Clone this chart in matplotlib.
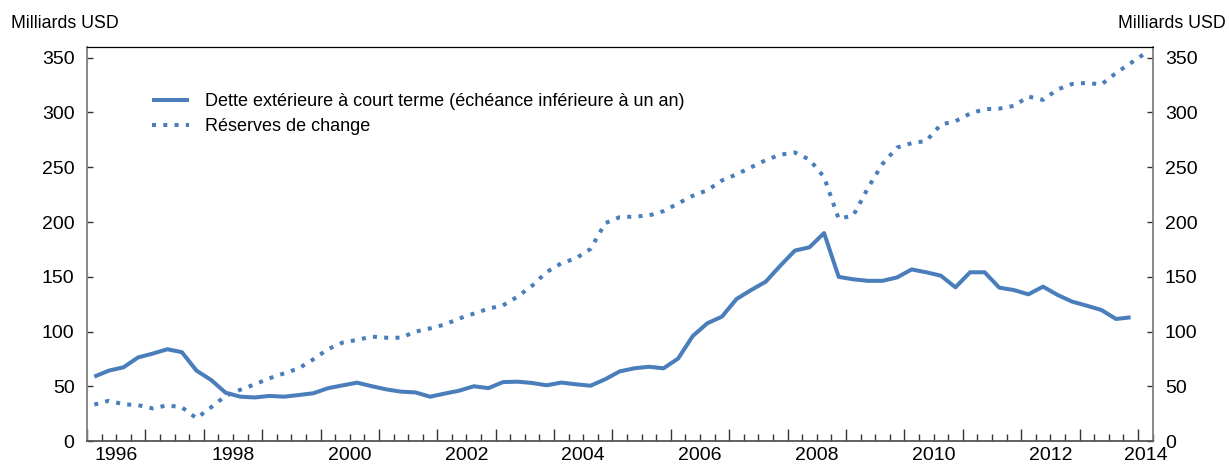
import matplotlib
matplotlib.use("Agg")
import matplotlib.pyplot as plt
from matplotlib.ticker import MultipleLocator
import pandas as pd

# ---------------- data (billions USD, quarterly from 1996Q1) ----------------
start_quarter = "1996Q1"
debt = [59, 64.5, 67.5, 76.5, 80, 84, 81.3, 64.5, 56, 44.3, 40.7, 40,
        41.4, 40.7, 42.2, 43.8, 48.4, 51, 53.5, 50.3, 47.4, 45.3, 44.6, 40.7,
        43.5, 46.2, 50.2, 48.5, 54, 54.4, 53.2, 51.1, 53.6, 52, 50.7, 56.6,
        63.8, 66.6, 68, 66.6, 75.5, 96, 107.7, 113.7, 129.8, 138, 145.6, 160.2,
        174, 177, 190, 150, 147.8, 146.4, 146.4, 149.5, 156.8, 154.2, 151.1, 140.5,
        154.2, 154.2, 140.2, 138, 134.1, 141.1, 133.5, 127.4, 123.7, 119.8, 111.6, 113.1]
reserves = [33.5, 37, 33.8, 33, 30, 32.8, 31, 21, 31, 41.5, 47, 52,
            57.5, 62, 66.5, 74.7, 84, 90, 92.5, 95.5, 94.5, 94.5, 100, 103,
            106.5, 112, 116.5, 121, 124, 132, 142, 154.5, 162.4, 167, 175.5, 199,
            204.5, 205, 206, 210, 217, 224, 229, 238, 243.5, 250, 256.5, 261.5,
            263.5, 257, 241, 203, 206, 231, 253, 268, 272, 274, 289, 292,
            299, 303, 303.5, 306, 314.5, 311.5, 321, 326, 327, 325.5, 336, 345, 354]
series_labels = ["Dette extérieure à court terme (échéance inférieure à un an)",
                 "Réserves de change"]
year_labels = ["1996", "1998", "2000", "2002", "2004", "2006", "2008", "2010", "2012", "2014"]
y_ticks = [0, 50, 100, 150, 200, 250, 300, 350]
unit_label = "Milliards USD"

# ---------------- style ----------------
plt.rcParams['font.family'] = ['Liberation Sans', 'DejaVu Sans']
COLOR = '#4A7EBB'
X_MIN, X_MAX = 1996.0, 2014.25
Y_MIN, Y_MAX = 0, 360


def quarter_mid(n):
    p = pd.period_range(start_quarter, periods=n, freq='Q')
    return (p.year + (p.quarter - 0.5) / 4).to_numpy()


fig = plt.figure(figsize=(12.29, 4.65), dpi=100)
ax = fig.add_axes([87 / 1229, 1 - 441.3 / 465, (1152.5 - 87) / 1229, (441.3 - 46.7) / 465])

ax.plot(quarter_mid(len(debt)), debt, color=COLOR, lw=2.9,
        solid_joinstyle='round', solid_capstyle='butt', label=series_labels[0])
ax.plot(quarter_mid(len(reserves)), reserves, color=COLOR, lw=2.9,
        linestyle=(0, (1, 1.8)), dash_capstyle='butt', label=series_labels[1])

ax.set_xlim(X_MIN, X_MAX)
ax.set_ylim(Y_MIN, Y_MAX)

# x ticks: years (major) and quarters (minor), inward, no labels
ax.xaxis.set_major_locator(MultipleLocator(1))
ax.xaxis.set_minor_locator(MultipleLocator(0.25))
ax.tick_params(axis='x', which='major', direction='in', length=9, width=1.0,
               color='#333333', labelbottom=False)
ax.tick_params(axis='x', which='minor', direction='in', length=5, width=1.0,
               color='#333333')

# year labels centred on the year
label_pos = [min(int(y) + 0.5, X_MAX - 0.11) for y in year_labels]
sec = ax.secondary_xaxis('bottom')
sec.set_xticks(label_pos, labels=year_labels)
sec.tick_params(length=0, labelsize=14, pad=4)
sec.spines['bottom'].set_visible(False)

# y ticks on both sides
ax.set_yticks(y_ticks)
ax.tick_params(axis='y', direction='in', length=4, width=1.0, color='#333333',
               left=True, right=True, labelleft=True, labelright=True,
               labelsize=14, pad=9)

for side in ('left', 'right'):
    ax.spines[side].set_color('#808080')
    ax.spines[side].set_linewidth(1.3)
ax.spines['bottom'].set_color('#555555')
ax.spines['bottom'].set_linewidth(1.3)
ax.spines['top'].set_color('black')
ax.spines['top'].set_linewidth(0.9)

ax.legend(loc='upper left', bbox_to_anchor=(152 / 1229, 1 - 93 / 465),
          bbox_transform=fig.transFigure, frameon=False, fontsize=13,
          handlelength=2.05, handletextpad=0.9, labelspacing=0.47,
          borderpad=0, borderaxespad=0)

fig.text(11 / 1229, 1 - 23 / 465, unit_label, ha='left', va='center', fontsize=12.8)
fig.text(1226 / 1229, 1 - 23 / 465, unit_label, ha='right', va='center', fontsize=12.8)

fig.savefig('out.png', dpi=100)
